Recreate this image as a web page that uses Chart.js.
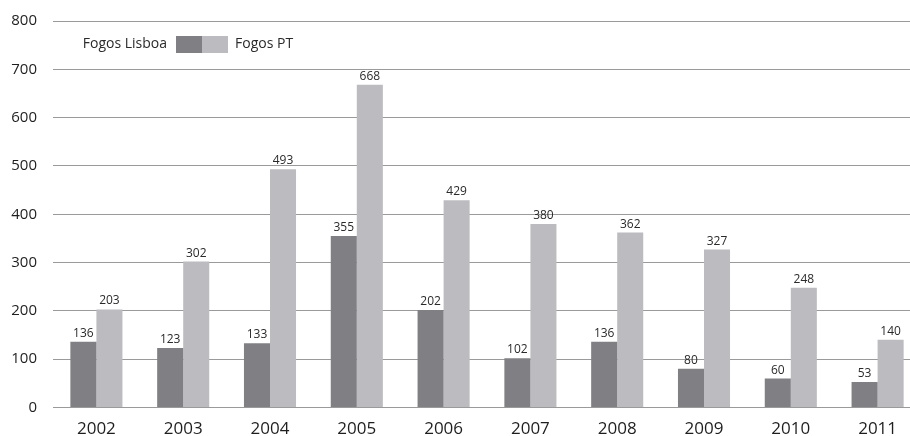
<!DOCTYPE html>
<html>
<head>
<meta charset="utf-8">
<script src="https://cdn.jsdelivr.net/npm/chart.js@4/dist/chart.umd.min.js"></script>
<style>
  html, body { margin: 0; padding: 0; background: #fff; overflow: hidden; }
  #wrap { width: 910px; height: 436px; overflow: hidden; }
  canvas { display: block; }
</style>
</head>
<body>
<div id="wrap"><canvas id="c" width="921" height="436"></canvas></div>
<script>
const years = ['2002', '2003', '2004', '2005', '2006', '2007', '2008', '2009', '2010', '2011'];
const fogosLisboa = [136, 123, 133, 355, 202, 102, 136, 80, 60, 53];
const fogosPT = [203, 302, 493, 668, 429, 380, 362, 327, 248, 140];
const yTicks = [0, 100, 200, 300, 400, 500, 600, 700, 800];

const FONT = '"Open Sans", "DejaVu Sans", sans-serif';
const DARK = '#808084';
const LIGHT = '#bcbcc0';

// Value labels above each bar
const valueLabels = {
  id: 'valueLabels',
  afterDatasetsDraw(chart) {
    const ctx = chart.ctx;
    ctx.save();
    ctx.font = '12px ' + FONT;
    ctx.fillStyle = '#2a2a2a';
    ctx.textAlign = 'center';
    ctx.textBaseline = 'alphabetic';
    chart.data.datasets.forEach((ds, i) => {
      chart.getDatasetMeta(i).data.forEach((bar, j) => {
        ctx.fillText(String(ds.data[j]), bar.x, bar.y - 5);
      });
    });
    ctx.restore();
  }
};

// Legend: first label left of the swatches, second label right of them
const swatchLegend = {
  id: 'swatchLegend',
  afterDraw(chart) {
    const ctx = chart.ctx;
    const ds = chart.data.datasets;
    const area = chart.chartArea;
    const boxX = area.left + 123, boxY = area.top + 15, boxW = 26, boxH = 17;
    ctx.save();
    ctx.font = '14px ' + FONT;
    ctx.fillStyle = '#2a2a2a';
    ctx.textBaseline = 'middle';
    ctx.textAlign = 'right';
    ctx.fillText(ds[0].label, boxX - 9, boxY + boxH / 2);
    ctx.fillStyle = ds[0].backgroundColor;
    ctx.fillRect(boxX, boxY, boxW, boxH);
    ctx.fillStyle = ds[1].backgroundColor;
    ctx.fillRect(boxX + boxW, boxY, boxW, boxH);
    ctx.fillStyle = '#2a2a2a';
    ctx.textAlign = 'left';
    ctx.fillText(ds[1].label, boxX + 2 * boxW + 7, boxY + boxH / 2);
    ctx.restore();
  }
};

new Chart(document.getElementById('c'), {
  type: 'bar',
  data: {
    labels: years,
    datasets: [
      { label: 'Fogos Lisboa', data: fogosLisboa, backgroundColor: DARK },
      { label: 'Fogos PT', data: fogosPT, backgroundColor: LIGHT }
    ]
  },
  options: {
    responsive: false,
    animation: false,
    devicePixelRatio: 1,
    layout: { padding: { top: 21, right: 0, left: 0, bottom: 0 } },
    datasets: { bar: { barPercentage: 1.0, categoryPercentage: 0.6 } },
    plugins: { legend: { display: false }, tooltip: { enabled: false } },
    scales: {
      x: {
        grid: { display: false, drawTicks: false },
        border: { display: false },
        ticks: { font: { family: FONT, size: 17 }, color: '#1e1e1e', padding: 11, maxRotation: 0 },
        afterFit(scale) { scale.height = 28.5; }
      },
      y: {
        min: 0, max: 800,
        afterBuildTicks(scale) { scale.ticks = yTicks.map(v => ({ value: v })); },
        grid: { color: '#9a9a9a', lineWidth: 1, drawTicks: false },
        border: { display: false },
        ticks: { font: { family: FONT, size: 15 }, color: '#1e1e1e', padding: 16 },
        afterFit(scale) {
          scale.width = 53;
          scale.paddingTop = 0;
          scale.paddingBottom = 0;
        }
      }
    }
  },
  plugins: [valueLabels, swatchLegend]
});
</script>
</body>
</html>
